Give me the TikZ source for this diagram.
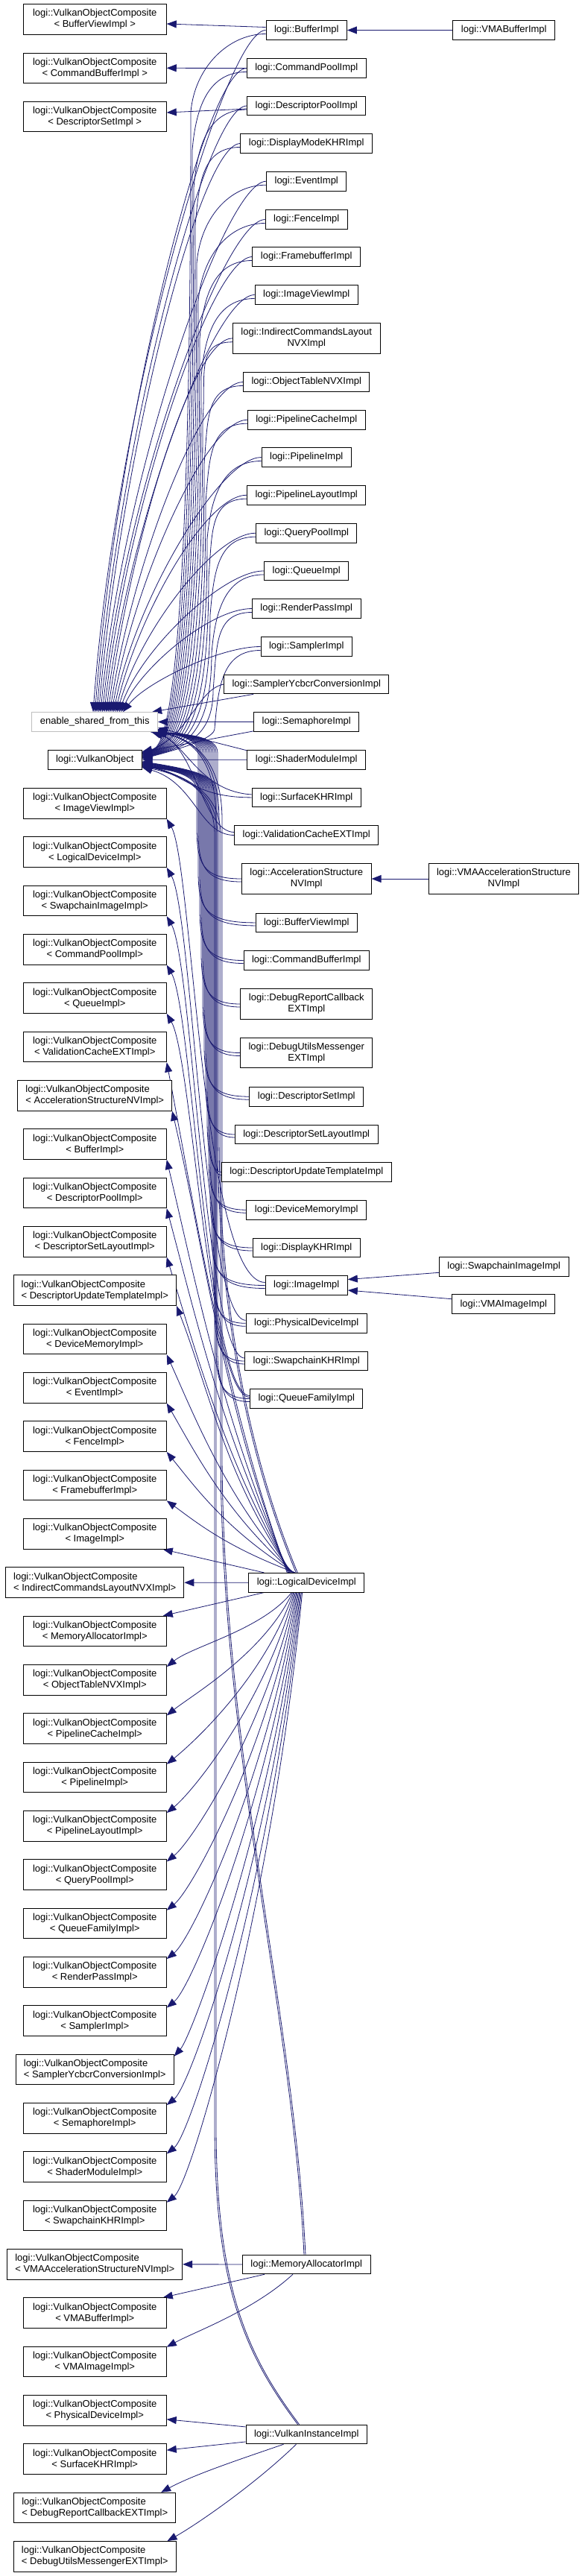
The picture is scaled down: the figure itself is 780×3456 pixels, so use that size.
\documentclass[tikz,border=0pt]{standalone}
\usepackage{fontspec}
\setmainfont{Liberation Sans}
\usetikzlibrary{arrows.meta,calc}
\definecolor{edgec}{HTML}{191970}
\pgfdeclarelayer{bg}
\pgfdeclarelayer{paper}
\pgfsetlayers{paper,bg,main}
\tikzset{
  box/.style={draw=black, line width=1pt, fill=white, inner xsep=11pt, inner ysep=2pt,
    font=\fontsize{13}{15}\selectfont, align=center, minimum height=25.7pt},
  box2/.style={box, minimum height=40.5pt},
  vc/.style={box2, minimum width=192pt},
  vcw/.style={box2, align=left, inner xsep=10.5pt},
  edge/.style={draw=edgec, line width=0.8pt, -{Triangle[length=13pt,width=10pt]}},
}
\begin{document}
\begin{tikzpicture}[x=1pt,y=-1pt]
\begin{pgfonlayer}{paper}
\fill[white] (0,0) rectangle (780,3456);
\end{pgfonlayer}
\useasboundingbox (0,0) rectangle (780,3456);

% ---------- left column ----------
\node[vc] (L1) at (127.25,26) {logi::VulkanObjectComposite\\< BufferViewImpl >};
\node[vc] (L2) at (127.25,91.3) {logi::VulkanObjectComposite\\< CommandBufferImpl >};
\node[vc] (L3) at (127.25,156.6) {logi::VulkanObjectComposite\\< DescriptorSetImpl >};
\foreach \kk/\nm in {4/ImageViewImpl, 5/LogicalDeviceImpl, 6/SwapchainImageImpl, 7/CommandPoolImpl, 8/QueueImpl, 9/ValidationCacheEXTImpl, 11/BufferImpl, 12/DescriptorPoolImpl, 13/DescriptorSetLayoutImpl, 15/DeviceMemoryImpl, 16/EventImpl, 17/FenceImpl, 18/FramebufferImpl, 19/ImageImpl, 21/MemoryAllocatorImpl, 22/ObjectTableNVXImpl, 23/PipelineCacheImpl, 24/PipelineImpl, 25/PipelineLayoutImpl, 26/QueryPoolImpl, 27/QueueFamilyImpl, 28/RenderPassImpl, 29/SamplerImpl, 31/SemaphoreImpl, 32/ShaderModuleImpl, 33/SwapchainKHRImpl, 35/VMABufferImpl, 36/VMAImageImpl, 37/PhysicalDeviceImpl, 38/SurfaceKHRImpl}
  \node[vc] (L\kk) at (127.25,{1077.9+65.33*(\kk-4)}) {logi::VulkanObjectComposite\\< \nm >};
\foreach \kk/\nm in {10/AccelerationStructureNVImpl, 14/DescriptorUpdateTemplateImpl, 20/IndirectCommandsLayoutNVXImpl, 30/SamplerYcbcrConversionImpl, 34/VMAAccelerationStructureNVImpl, 39/DebugReportCallbackEXTImpl, 40/DebugUtilsMessengerEXTImpl}
  \node[vcw] (L\kk) at (127.25,{1077.9+65.33*(\kk-4)}) {logi::VulkanObjectComposite\\< \nm >};
\node[box, draw=black!25] (esft) at (127.25,968.5) {enable\_shared\_from\_this};
\node[box] (vo) at (127.25,1019.3) {logi::VulkanObject};

% ---------- middle column ----------
\foreach \ii/\nm/\cy in {1/BufferImpl/40.5, 2/CommandPoolImpl/91.5, 3/DescriptorPoolImpl/142, 4/DisplayModeKHRImpl/192.5, 5/EventImpl/243.2, 6/FenceImpl/294.5, 7/FramebufferImpl/344.5, 8/ImageViewImpl/395.5, 10/ObjectTableNVXImpl/512.5, 11/PipelineCacheImpl/563.2, 12/PipelineImpl/613.5, 13/PipelineLayoutImpl/664.2, 14/QueryPoolImpl/715.2, 15/QueueImpl/765.9, 16/RenderPassImpl/816.5, 17/SamplerImpl/867.5, 18/SamplerYcbcrConversionImpl/918, 19/SemaphoreImpl/968.5, 20/ShaderModuleImpl/1019.2, 21/SurfaceKHRImpl/1069.9, 22/ValidationCacheEXTImpl/1120.5, 24/BufferViewImpl/1237.9, 25/CommandBufferImpl/1288.5, 28/DescriptorSetImpl/1471.2, 29/DescriptorSetLayoutImpl/1522, 30/DescriptorUpdateTemplateImpl/1572.5, 31/DeviceMemoryImpl/1623.2, 32/DisplayKHRImpl/1674, 33/ImageImpl/1724.5, 34/PhysicalDeviceImpl/1775.3, 35/SwapchainKHRImpl/1826, 36/QueueFamilyImpl/1876.5}
  \node[box] (m\ii) at (411.25,\cy) {logi::\nm};
\node[box2] (m9) at (411.25,453.8) {logi::IndirectCommandsLayout\\NVXImpl};
\node[box2] (m23) at (411.25,1179) {logi::AccelerationStructure\\NVImpl};
\node[box2] (m26) at (411.25,1347) {logi::DebugReportCallback\\EXTImpl};
\node[box2] (m27) at (411.25,1412.5) {logi::DebugUtilsMessenger\\EXTImpl};
\node[box] (LD) at (411.25,2123.2) {logi::LogicalDeviceImpl};
\node[box] (MA) at (411.25,3037.9) {logi::MemoryAllocatorImpl};
\node[box] (VI) at (411.25,3265.9) {logi::VulkanInstanceImpl};

% ---------- right column ----------
\node[box] (r1) at (676.25,40.5) {logi::VMABufferImpl};
\node[box2] (r2) at (676,1179) {logi::VMAAccelerationStructure\\NVImpl};
\node[box] (r3) at (676.25,1699.3) {logi::SwapchainImageImpl};
\node[box] (r4) at (675.75,1749.7) {logi::VMAImageImpl};

\begin{pgfonlayer}{bg}
% simple straight edges
\draw[edge] (r1.west) -- (m1.east);
\draw[edge] (r2.west) -- (m23.east);
\draw[edge] ($(r3.west)+(0,8)$) -- ($(m33.east)+(0,-8)$);
\draw[edge] ($(r4.west)+(0,-7)$) -- ($(m33.east)+(0,6.5)$);
\draw[edge] ($(m1.west)+(0,-4)$) -- ($(L1.east)+(0,6)$);
\draw[edge] (m2.west) -- (L2.east);
\draw[edge] ($(m3.west)+(0,4)$) -- ($(L3.east)+(0,-5.6)$);

% upper classes -> enable_shared_from_this / VulkanObject
\foreach \ii/\cy in {1/40.5, 2/91.5, 3/142, 4/192.5, 5/243.2, 6/294.5, 7/344.5, 8/395.5, 9/453.8, 10/512.5, 11/563.2, 12/613.5, 13/664.2, 14/715.2, 15/765.9, 16/816.5, 17/867.5}{
  \pgfmathsetmacro\tx{125+2.5*(\ii-1)}
  \pgfmathsetmacro\cc{\cy+0.55*(955.7-\cy)}
  \pgfmathsetmacro\bx{256+2*(\ii-1)}
  \pgfmathsetmacro\tyy{2.5+0.6*(\ii-1)}
  \draw[edge] (m\ii.west) .. controls ($(m\ii.west)+(-55,0)$) and ({\tx+30},\cc) .. ($(esft.north)+({\tx-127.25},0)$);
  \draw[edge] ($(m\ii.west)+(0,5)$) .. controls ($(m\ii.west)+(-50,5)$) and ({\bx+5},{\cy+50}) .. ({\bx},{\cy+110}) .. controls ({\bx},990) and ({\bx-40},1003) .. ($(vo.north east)+(0,\tyy)$);
}
% classes near the two bases
\draw[edge] ($(m18.south west)+(40,0)$) -- ($(esft.north east)+(-8,0)$);
\draw[edge] (m18.west) .. controls (265,925) and (255,985) .. ($(vo.north east)+(0,5)$);
\draw[edge] (m19.west) -- (esft.east);
\draw[edge] ($(m19.south west)+(0,-1)$) -- ($(vo.north east)+(0,3)$);
\draw[edge] (m20.west) -- (vo.east);
\draw[edge] ($(m20.north west)+(0,1)$) -- ($(esft.east)+(0,8)$);
\draw[edge] (m21.west) .. controls (262,1069.9) and (250,1040) .. ($(vo.south east)+(0,-6)$);
\draw[edge] ($(m21.west)+(0,-4)$) .. controls (270,1062) and (250,1000) .. ($(esft.south east)+(-6,0)$);
\draw[edge] (m22.west) .. controls (268,1120.5) and (262,1050) .. ($(vo.south east)+(0,-3)$);
\draw[edge] ($(m22.west)+(0,-4)$) .. controls (272,1116) and (262,1000) .. ($(esft.south east)+(-9,0)$);

% lower classes -> enable_shared_from_this / VulkanObject
\foreach \ii/\cy in {23/1179, 24/1237.9, 25/1288.5, 26/1347, 27/1412.5, 28/1471.2, 29/1522, 30/1572.5, 31/1623.2, 32/1674, 33/1724.5, 34/1775.3, 35/1826, 36/1876.5}{
  \pgfmathsetmacro\jj{\ii-21}
  \pgfmathsetmacro\bx{260+2*\jj}
  \draw[edge] (m\ii.west) .. controls ({\bx+8},\cy) and ({\bx},{\cy-20}) .. ({\bx},{\cy-70}) -- ({\bx},1060) .. controls ({\bx},1040) and ({\bx-35},1032) .. ($(vo.south east)+(0,{-2-0.6*\jj})$);
  \draw[edge] ($(m\ii.west)+(0,4)$) .. controls ({\bx+10},{\cy+4}) and ({\bx+2},{\cy-18}) .. ({\bx+2},{\cy-66}) -- ({\bx+2},1010) .. controls ({\bx+2},990) and ({\bx-30},985) .. ($(esft.south east)+({-3-0.5*\jj},0)$);
}
% LogicalDevice, MemoryAllocator, VulkanInstance -> bases
\draw[edge] ($(LD.north west)+(64,0)$) .. controls (335,1960) and (292,1760) .. (292,1520) -- (292,1120) .. controls (292,1060) and (245,1040) .. ($(vo.south east)+(0,-4)$);
\draw[edge] ($(LD.north west)+(66,0)$) .. controls (337,1960) and (294,1760) .. (294,1520) -- (294,1100) .. controls (294,1010) and (250,990) .. ($(esft.south east)+(-1,0)$);
\draw[edge] ($(MA.north west)+(83,0)$) .. controls (392,2700) and (297,2350) .. (296,1950) -- (296,1120) .. controls (296,1060) and (245,1040) .. ($(vo.south east)+(0,-6)$);
\draw[edge] ($(MA.north west)+(85,0)$) .. controls (394,2700) and (299,2350) .. (298,1950) -- (298,1100) .. controls (298,1010) and (250,990) .. ($(esft.south east)+(-2,0)$);
\draw[edge] ($(VI.north west)+(70,0)$) .. controls (330,3160) and (288,3070) .. (288,2850) -- (288,1120) .. controls (288,1060) and (245,1040) .. ($(vo.south east)+(0,-8)$);
\draw[edge] ($(VI.north west)+(72,0)$) .. controls (332,3160) and (290,3070) .. (290,2850) -- (290,1100) .. controls (290,1010) and (250,990) .. ($(esft.south east)+(-4,0)$);

% composites of ImageImpl, PhysicalDevice, SwapchainKHR, QueueFamily
\draw[edge] ($(m33.west)+(0,-4)$) .. controls (272,1720) and (258,1158) .. (L4.south east);
\draw[edge] ($(m34.west)+(0,-4)$) .. controls (274,1771) and (258,1224) .. (L5.south east);
\draw[edge] ($(m35.west)+(0,-4)$) .. controls (276,1822) and (258,1289) .. (L6.south east);
\draw[edge] ($(m36.west)+(0,-4)$) .. controls (278,1872) and (258,1354) .. (L7.south east);
\draw[edge] ($(m36.west)+(0,-2)$) .. controls (280,1874) and (258,1420) .. (L8.south east);

% LogicalDevice composites (upwards)
\foreach \kk/\tyy/\txx in {9/1425/223, 10/1490.3/234.5, 11/1555.5/223, 12/1620.8/223, 13/1686.2/223, 14/1751.5/239, 15/1816.8/223, 16/1882.2/223, 17/1947.5/223, 18/2012.8/223}{
  \pgfmathsetmacro\dyy{2110-\tyy}
  \draw[edge] ($(LD.north west)+({52+1.2*(\kk-9)},0)$) .. controls ({300+0.5*(\kk-9)},{2110-0.35*\dyy}) and ({\txx+40},{\tyy+0.3*\dyy}) .. (L\kk.south east);
}
\draw[edge] ($(LD.north west)+(21,0)$) -- ($(L19.south east)+(-5,0)$);
\draw[edge] (LD.west) -- (L20.east);
\draw[edge] ($(LD.south west)+(21,0)$) -- ($(L21.north east)+(-5,0)$);
% LogicalDevice composites (downwards)
\foreach \kk in {22,...,33}{
  \pgfmathsetmacro\tyy{1077.9+65.33*(\kk-4)-20.25+3}
  \pgfmathsetmacro\xo{58+1.3*(\kk-22)}
  \draw[edge] ($(LD.south west)+(\xo,0)$) .. controls ({334+\xo-40},{2136+0.5*(\tyy-2136)}) and (258,{\tyy-28}) .. ($(L\kk.north east)+(0,3)$);
}
% MemoryAllocator composites
\draw[edge] (MA.west) -- (L34.east);
\draw[edge] ($(MA.south west)+(30,0)$) -- ($(L35.north east)+(-5,0)$);
\draw[edge] ($(MA.south west)+(68,0)$) .. controls (340,3100) and (262,3128) .. ($(L36.north east)+(0,1)$);
% VulkanInstance composites
\draw[edge] ($(VI.west)+(0,-10)$) -- ($(L37.east)+(0,12)$);
\draw[edge] ($(VI.west)+(0,10)$) -- ($(L38.east)+(0,-12)$);
\draw[edge] ($(VI.south west)+(51,0)$) .. controls (320,3300) and (260,3320) .. ($(L39.north east)+(-20,0)$);
\draw[edge] ($(VI.south west)+(68,0)$) .. controls (340,3335) and (262,3388) .. ($(L40.north east)+(-12,0)$);
\end{pgfonlayer}
\end{tikzpicture}
\end{document}
